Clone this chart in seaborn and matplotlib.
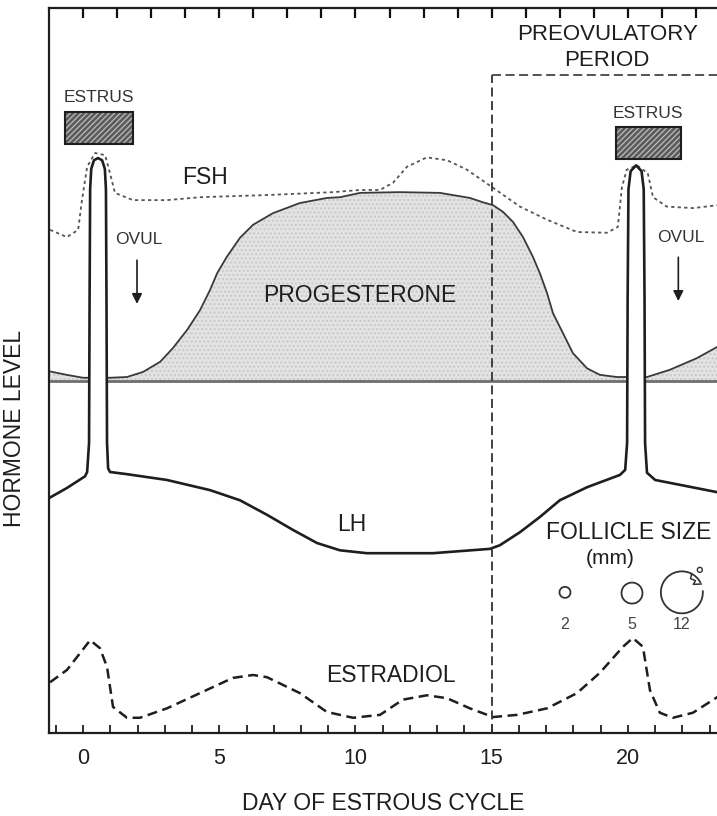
import numpy as np
import pandas as pd
import matplotlib
matplotlib.use("Agg")
import matplotlib.pyplot as plt
from matplotlib.patches import Rectangle, Arc
import seaborn as sns

# Relative hormone level (0 = axis bottom, 100 = axis top), x = day of estrous cycle
prog_days = [-1.25, -0.6, 0.0, 0.99, 1.61, 2.2, 2.83, 3.3, 3.82, 4.29, 4.66, 4.92, 5.28, 5.76,
             6.24, 6.97, 7.96, 8.95, 9.43, 10.17, 11.63, 13.1, 14.2, 14.68, 15.05, 15.41, 15.78,
             16.15, 16.51, 16.77, 17.03, 17.25, 17.61, 17.98, 18.5, 18.97, 19.6, 19.96, 20.7,
             21.54, 22.53, 23.3]
prog_levels = [49.9, 49.4, 49.0, 49.0, 49.1, 49.8, 51.2, 53.1, 55.6, 58.3, 61.1, 63.4, 65.7, 68.3,
               70.1, 71.7, 73.1, 73.8, 73.9, 74.5, 74.6, 74.5, 73.8, 73.2, 72.8, 71.9, 70.5,
               68.4, 65.7, 63.4, 60.7, 57.9, 55.2, 52.4, 50.3, 49.4, 49.1, 49.1, 49.1,
               50.1, 51.7, 53.3]
prog_base = 48.6

lh_days = [-1.25, -0.59, 0.07, 0.15, 0.22, 0.24, 0.26, 0.3, 0.4, 0.55, 0.7, 0.8, 0.84, 0.86, 0.88,
           0.92, 0.99, 1.61, 3.08, 4.66, 5.76, 6.75, 7.71, 8.59, 9.43, 10.42, 12.84, 14.94, 15.3,
           16.04, 16.77, 17.5, 18.5, 19.71, 19.9, 19.97, 19.99, 20.02, 20.1, 20.3, 20.5, 20.58,
           20.61, 20.63, 20.7, 21.0, 23.3]
lh_levels = [32.4, 33.8, 35.4, 36.0, 40.0, 60.0, 75.0, 77.8, 79.0, 79.3, 79.0, 77.8, 75.0, 60.0, 40.0,
             36.5, 36.0, 35.7, 34.9, 33.5, 32.1, 30.1, 28.0, 26.2, 25.2, 24.8, 24.8, 25.4, 25.9,
             27.7, 29.8, 32.1, 33.9, 35.6, 36.3, 40.0, 60.0, 75.0, 77.5, 78.3, 77.5, 75.0,
             60.0, 40.0, 35.9, 34.9, 33.2]

fsh_days = [-1.21, -0.59, -0.18, -0.04, 0.15, 0.44, 0.81, 0.99, 1.17, 1.83, 3.08, 4.29, 6.75, 9.17,
            10.17, 10.9, 11.38, 11.89, 12.62, 13.36, 14.09, 15.05, 16.04, 17.03, 18.13, 19.23,
            19.63, 19.78, 19.96, 20.33, 20.73, 20.92, 21.43, 22.39, 23.3]
fsh_levels = [69.4, 68.4, 69.4, 73.5, 78.1, 80.0, 79.7, 77.2, 74.5, 73.5, 73.5, 73.9, 74.2, 74.6,
              74.9, 74.9, 75.9, 78.1, 79.4, 79.0, 77.7, 75.2, 72.6, 70.8, 69.1, 69.0,
              69.8, 75.3, 77.7, 78.3, 77.2, 73.9, 72.6, 72.4, 72.8]

e2_days = [-1.21, -0.59, 0.26, 0.62, 0.88, 1.1, 1.61, 2.09, 3.08, 4.29, 5.5, 6.24, 6.75, 7.96, 8.95,
           9.91, 10.9, 11.74, 12.62, 13.36, 14.2, 15.05, 15.93, 17.03, 18.13, 18.97, 19.82, 20.18,
           20.55, 20.81, 21.17, 21.65, 22.39, 23.3]
e2_levels = [7.0, 8.7, 12.8, 11.7, 9.1, 3.6, 2.1, 2.1, 3.4, 5.5, 7.6, 8.0, 7.7, 5.5, 2.9,
             2.1, 2.5, 4.6, 5.2, 4.8, 3.4, 2.2, 2.5, 3.4, 5.5, 8.3, 11.9, 13.1,
             11.9, 5.9, 2.8, 2.1, 2.8, 5.0]

x_ticks = [0, 5, 10, 15, 20]
top_ticks = [0, 1.25, 2.5, 3.75, 5, 6.25, 7.5, 8.75, 10, 11.25, 12.5, 13.75, 15, 16.25, 17.5,
             18.75, 20, 21.25, 22.5]
follicle_sizes = ["2", "5", "12"]
preov_start = 15

lh = pd.DataFrame({"day": lh_days, "level": lh_levels})
fsh = pd.DataFrame({"day": fsh_days, "level": fsh_levels})
e2 = pd.DataFrame({"day": e2_days, "level": e2_levels})

sns.set_theme(style="white")
plt.rcParams["font.family"] = ["Liberation Sans", "DejaVu Sans"]

fig = plt.figure(figsize=(7.17, 8.16), dpi=100)
ax = fig.add_axes([49 / 717, 83 / 816, 668 / 717, 725 / 816])
ink = "#1e1e1e"

# progesterone area + baseline
ax.fill_between(prog_days, prog_base, prog_levels, facecolor="#e3e3e3", hatch="....",
                edgecolor="#c8c8c8", linewidth=0, zorder=1)
ax.axhline(prog_base, color="#6e6e6e", lw=2.0, zorder=1.5)
ax.plot(prog_days, prog_levels, color="#3a3a3a", lw=1.3, zorder=2)

# FSH (dotted)
sns.lineplot(data=fsh, x="day", y="level", ax=ax, color="#555555", lw=1.3, sort=False,
             estimator=None, zorder=4)
ax.lines[-1].set_dashes((1.8, 1.8))

# LH with white interior of the surge spikes
lh_arr = np.array(lh_levels)
ax.fill_between(lh_days, 37.5, lh_levels, where=lh_arr > 37.5, color="white", zorder=3,
                interpolate=True, linewidth=0)
sns.lineplot(data=lh, x="day", y="level", ax=ax, color=ink, lw=1.9, sort=False,
             estimator=None, zorder=5)

# estradiol (dashed)
sns.lineplot(data=e2, x="day", y="level", ax=ax, color=ink, lw=1.8, sort=False,
             estimator=None, zorder=4)
ax.lines[-1].set_dashes((4, 2.2))

# preovulatory period box
ax.plot([preov_start, preov_start], [0, 90.8], color="#333333", lw=1.3, dashes=(5, 2.5), zorder=6)
ax.plot([preov_start, 23.3], [90.8, 90.8], color="#444444", lw=1.3, dashes=(5, 2.5), zorder=6)
ax.text(19.27, 96.3, "PREOVULATORY", ha="center", va="center", fontsize=16, color=ink)
ax.text(19.23, 92.8, "PERIOD", ha="center", va="center", fontsize=16, color=ink)

# estrus boxes
for x0, x1, y0, y1, ty in [(-0.66, 1.83, 81.2, 85.7, 87.7), (19.56, 21.94, 79.2, 83.6, 85.5)]:
    ax.add_patch(Rectangle((x0, y0), x1 - x0, y1 - y0, facecolor="#5a5a5a", edgecolor="#b5b5b5",
                           hatch="//////", lw=0, zorder=6))
    ax.add_patch(Rectangle((x0, y0), x1 - x0, y1 - y0, fill=False, edgecolor=ink, lw=1.5, zorder=7))
    ax.text((x0 + x1) / 2, ty, "ESTRUS", ha="center", va="center", fontsize=12.5, color="#333333")

# ovulation arrows
for xd, ty in [(1.98, 68.0), (21.85, 68.4)]:
    ax.text(xd + 0.08, ty, "OVUL", ha="center", va="center", fontsize=12.5, color="#333333")
    ax.annotate("", xy=(xd, ty - 9.2), xytext=(xd, ty - 2.4),
                arrowprops=dict(arrowstyle="-|>", color=ink, lw=1.2, mutation_scale=15))

# curve labels
ax.text(4.48, 76.6, "FSH", ha="center", va="center", fontsize=16.5, color=ink, zorder=8)
ax.text(10.17, 60.4, "PROGESTERONE", ha="center", va="center", fontsize=16.5, color=ink, zorder=8)
ax.text(9.87, 28.7, "LH", ha="center", va="center", fontsize=16.5, color=ink, zorder=8)
ax.text(11.3, 8.0, "ESTRADIOL", ha="center", va="center", fontsize=16.5, color=ink, zorder=8)

# follicle size legend
ax.text(20.04, 27.7, "FOLLICLE SIZE", ha="center", va="center", fontsize=16.5, color=ink)
ax.text(19.34, 24.1, "(mm)", ha="center", va="center", fontsize=15, color=ink)
px_day, px_lvl = 27.25, 7.25
ax.add_patch(Arc((17.69, 19.4), 11 / px_day, 11 / px_lvl, color="#333333", lw=1.3))
ax.add_patch(Arc((20.15, 19.3), 21 / px_day, 21 / px_lvl, color="#333333", lw=1.3))
ax.add_patch(Arc((21.98, 19.4), 42 / px_day, 42 / px_lvl, theta1=62, theta2=380,
                 color="#333333", lw=1.3))
ax.plot([22.34, 22.3, 22.48, 22.4, 22.7], [22.0, 21.3, 21.0, 20.5, 20.55], color="#333333", lw=1.1)
ax.add_patch(Arc((22.64, 22.5), 5 / px_day, 5 / px_lvl, color="#333333", lw=1.0))
for xd, lab in zip([17.69, 20.15, 21.98], follicle_sizes):
    ax.text(xd, 15.0, lab, ha="center", va="center", fontsize=11.5, color="#444444")

# axes styling
ax.set_xlim(-1.25, 23.27)
ax.set_ylim(0, 100)
ax.set_xticks(x_ticks)
ax.set_xticks(np.arange(-1, 24), minor=True)
ax.set_yticks([])
ax.tick_params(axis="x", which="both", direction="in", length=6, width=1.3, color=ink,
               labelsize=15.5, pad=11, labelcolor=ink, bottom=True, top=False)
for side in ["left", "bottom", "top"]:
    ax.spines[side].set_color(ink)
    ax.spines[side].set_linewidth(1.6)
ax.spines["right"].set_visible(False)
ax.set_xlabel("DAY OF ESTROUS CYCLE", fontsize=16.5, color=ink, labelpad=16)
ax.set_ylabel("HORMONE LEVEL", fontsize=16.5, color=ink)
ax.yaxis.set_label_coords(-0.035, 0.42)

# inward ticks along the top frame (different spacing from the day scale)
ax.vlines(top_ticks, 0.986, 1.0, transform=ax.get_xaxis_transform(), color="#111111", lw=1.6,
          zorder=10)

fig.savefig("out.png", dpi=100)
